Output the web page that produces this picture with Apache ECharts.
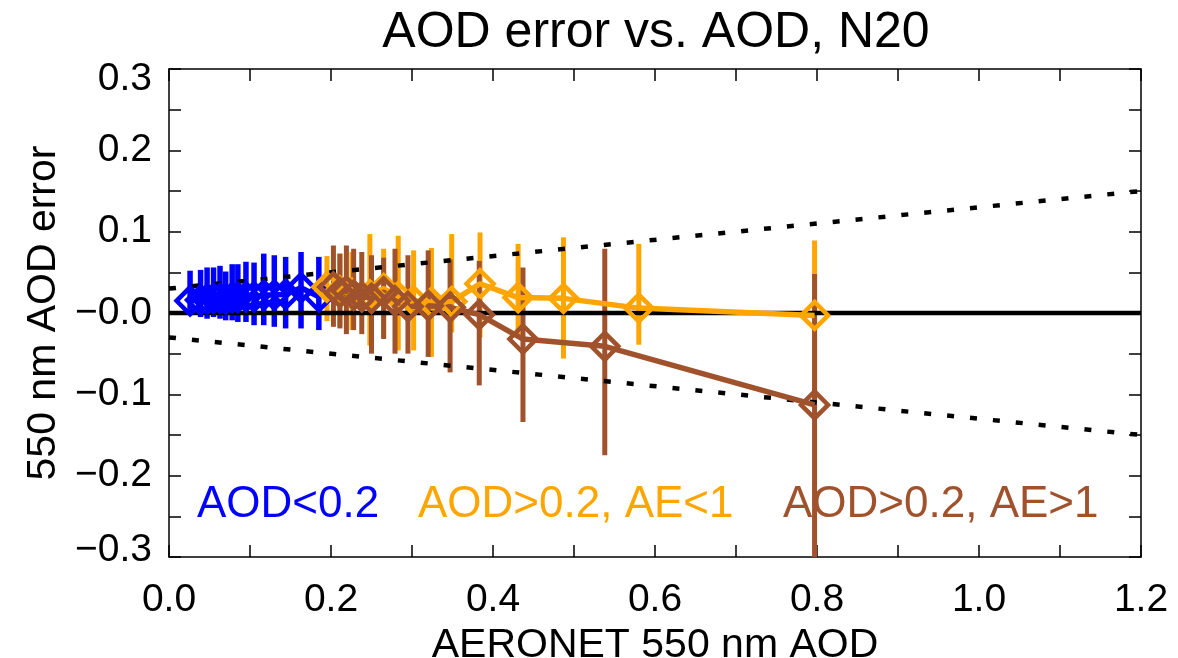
<!DOCTYPE html>
<html>
<head>
<meta charset="utf-8">
<script src="https://cdn.jsdelivr.net/npm/echarts@6/dist/echarts.min.js"></script>
<style>
html, body {margin: 0; padding: 0; background: #fff;}
#main {width: 1178px; height: 658px;}
</style>
</head>
<body>
<div id="main"></div>
<script>
// AOD < 0.2 bins
var blueAod = [0.026, 0.039, 0.047, 0.055, 0.063, 0.070, 0.078, 0.085, 0.095, 0.105, 0.117, 0.130, 0.144, 0.163, 0.185];
var blueErr = [0.015, 0.016, 0.017, 0.018, 0.018, 0.017, 0.019, 0.019, 0.020, 0.020, 0.022, 0.022, 0.023, 0.031, 0.020];
var blueHi = [0.052, 0.053, 0.056, 0.056, 0.058, 0.051, 0.060, 0.060, 0.063, 0.062, 0.073, 0.071, 0.069, 0.075, 0.069];
var blueLo = [-0.001, -0.005, -0.007, -0.005, -0.007, -0.009, -0.009, -0.011, -0.011, -0.015, -0.015, -0.017, -0.019, -0.019, -0.021];

// AOD > 0.2, AE < 1
var orAod = [0.195, 0.211, 0.226, 0.248, 0.265, 0.283, 0.302, 0.324, 0.349, 0.384, 0.431, 0.487, 0.580, 0.797];
var orErr = [0.032, 0.027, 0.024, 0.022, 0.030, 0.020, 0.015, 0.013, 0.014, 0.036, 0.019, 0.018, 0.006, -0.003];
var orHi = [0.070, 0.073, 0.075, 0.097, 0.079, 0.095, 0.077, 0.080, 0.097, 0.099, 0.085, 0.093, 0.085, 0.089];
var orLo = [-0.010, -0.017, -0.021, -0.040, -0.030, -0.046, -0.046, -0.054, -0.024, -0.030, -0.028, -0.056, -0.039, -0.105];

// AOD > 0.2, AE > 1
var brAod = [0.203, 0.211, 0.219, 0.228, 0.238, 0.250, 0.265, 0.279, 0.295, 0.320, 0.347, 0.383, 0.437, 0.538, 0.797];
var brErr = [0.032, 0.025, 0.027, 0.022, 0.020, 0.018, 0.026, 0.015, 0.008, 0.009, 0.007, -0.002, -0.032, -0.041, -0.113];
var brHi = [0.083, 0.073, 0.083, 0.079, 0.075, 0.071, 0.068, 0.079, 0.071, 0.077, 0.066, 0.064, 0.056, 0.079, 0.048];
var brLo = [-0.017, -0.019, -0.026, -0.021, -0.026, -0.050, -0.032, -0.050, -0.050, -0.054, -0.073, -0.089, -0.134, -0.175, -0.340];

// reference lines
var lineX = [0, 1.2];
var zeroY = [0, 0];
var envUpper = [0.03, 0.15];
var envLower = [-0.03, -0.15];

var FONT = '"Liberation Sans", Arial, sans-serif';
var BLUE = '#0000ff';
var ORANGE = '#ffa500';
var BROWN = '#a0522d';

function pairs(xs, ys) {
	var out = [];
	for (var i = 0; i < xs.length; i++) {
		out.push([xs[i], ys[i]]);
	}
	return out;
}

function errBars(xs, lo, hi, color, width) {
	var data = [];
	for (var i = 0; i < xs.length; i++) {
		data.push([xs[i], lo[i], hi[i]]);
	}
	return {
		type: 'custom',
		clip: true,
		silent: true,
		data: data,
		encode: {x: 0, y: [1, 2]},
		renderItem: function (params, api) {
			var p1 = api.coord([api.value(0), api.value(1)]);
			var p2 = api.coord([api.value(0), api.value(2)]);
			return {
				type: 'line',
				shape: {x1: p1[0], y1: p1[1], x2: p2[0], y2: p2[1]},
				style: {stroke: color, lineWidth: width}
			};
		}
	};
}

function meanLine(xs, ys, color) {
	return {
		type: 'line',
		silent: true,
		clip: true,
		data: pairs(xs, ys),
		symbol: 'diamond',
		symbolSize: 27,
		showAllSymbol: true,
		lineStyle: {color: color, width: 5.5},
		itemStyle: {color: 'rgba(0,0,0,0)', borderColor: color, borderWidth: 4.5}
	};
}

function refLine(ys, dash) {
	return {
		type: 'line',
		silent: true,
		data: pairs(lineX, ys),
		symbol: 'none',
		lineStyle: {color: '#000', width: 4.5, type: dash}
	};
}

function xLabel(v) {
	var k = Math.round(v * 10);
	return k % 2 === 0 ? (k / 10).toFixed(1) : '';
}

function yLabel(v) {
	var k = Math.round(v * 20);
	if (k % 2 !== 0) return '';
	var s = (k <= 0 ? '\u2212' : '') + Math.abs(k / 20).toFixed(1);
	// the end labels sit a little inside the frame
	if (k === 6) return '{top|' + s + '}';
	if (k === -6) return '{bot|' + s + '}';
	return s;
}

var axisLine = {show: true, onZero: false, lineStyle: {color: '#000', width: 1.5}};
var axisTick = {show: true, inside: true, length: 12, lineStyle: {color: '#000', width: 1.5}};

var myChart = echarts.init(document.getElementById('main'));
var option = {
	animation: false,
	backgroundColor: '#fff',
	grid: {left: 169, right: 37, top: 69, bottom: 101, outerBoundsMode: 'none', containLabel: false},
	graphic: [
		{type: 'text', x: 656, y: 33, style: {text: 'AOD error vs. AOD, N20', font: '50px ' + FONT, fill: '#000', align: 'center', verticalAlign: 'middle'}},
		{type: 'text', x: 197, y: 505, style: {text: 'AOD<0.2', font: '44px ' + FONT, fill: BLUE, verticalAlign: 'middle'}},
		{type: 'text', x: 418, y: 505, style: {text: 'AOD>0.2, AE<1', font: '44px ' + FONT, fill: ORANGE, verticalAlign: 'middle'}},
		{type: 'text', x: 783, y: 505, style: {text: 'AOD>0.2, AE>1', font: '44px ' + FONT, fill: BROWN, verticalAlign: 'middle'}}
	],
	xAxis: [
		{
			type: 'value', position: 'bottom', min: 0, max: 1.2, interval: 0.1,
			name: 'AERONET 550 nm AOD', nameLocation: 'middle', nameGap: 44,
			nameTextStyle: {fontFamily: FONT, fontSize: 41, color: '#000'},
			axisLine: axisLine, axisTick: axisTick,
			axisLabel: {formatter: xLabel, fontFamily: FONT, fontSize: 39, color: '#000', margin: 24},
			splitLine: {show: false}
		},
		{
			type: 'value', position: 'top', min: 0, max: 1.2, interval: 0.1,
			axisLine: axisLine, axisTick: axisTick,
			axisLabel: {show: false}, splitLine: {show: false}
		}
	],
	yAxis: [
		{
			type: 'value', position: 'left', min: -0.3, max: 0.3, interval: 0.05,
			name: '550 nm AOD error', nameLocation: 'middle', nameGap: 105,
			nameTextStyle: {fontFamily: FONT, fontSize: 41, color: '#000'},
			axisLine: axisLine, axisTick: axisTick,
			axisLabel: {
				formatter: yLabel, fontFamily: FONT, fontSize: 39, color: '#000', margin: 17,
				rich: {
					top: {fontFamily: FONT, fontSize: 39, color: '#000', padding: [20, 0, 0, 0]},
					bot: {fontFamily: FONT, fontSize: 39, color: '#000', padding: [0, 0, 14, 0]}
				}
			},
			splitLine: {show: false}
		},
		{
			type: 'value', position: 'right', min: -0.3, max: 0.3, interval: 0.05,
			axisLine: axisLine, axisTick: axisTick,
			axisLabel: {show: false}, splitLine: {show: false}
		}
	],
	series: [
		refLine(zeroY, 'solid'),
		refLine(envUpper, [7, 16]),
		refLine(envLower, [7, 16]),
		errBars(blueAod, blueLo, blueHi, BLUE, 5.5),
		meanLine(blueAod, blueErr, BLUE),
		errBars(orAod, orLo, orHi, ORANGE, 5),
		meanLine(orAod, orErr, ORANGE),
		errBars(brAod, brLo, brHi, BROWN, 5),
		meanLine(brAod, brErr, BROWN)
	]
};
myChart.setOption(option, true);
</script>
</body>
</html>
